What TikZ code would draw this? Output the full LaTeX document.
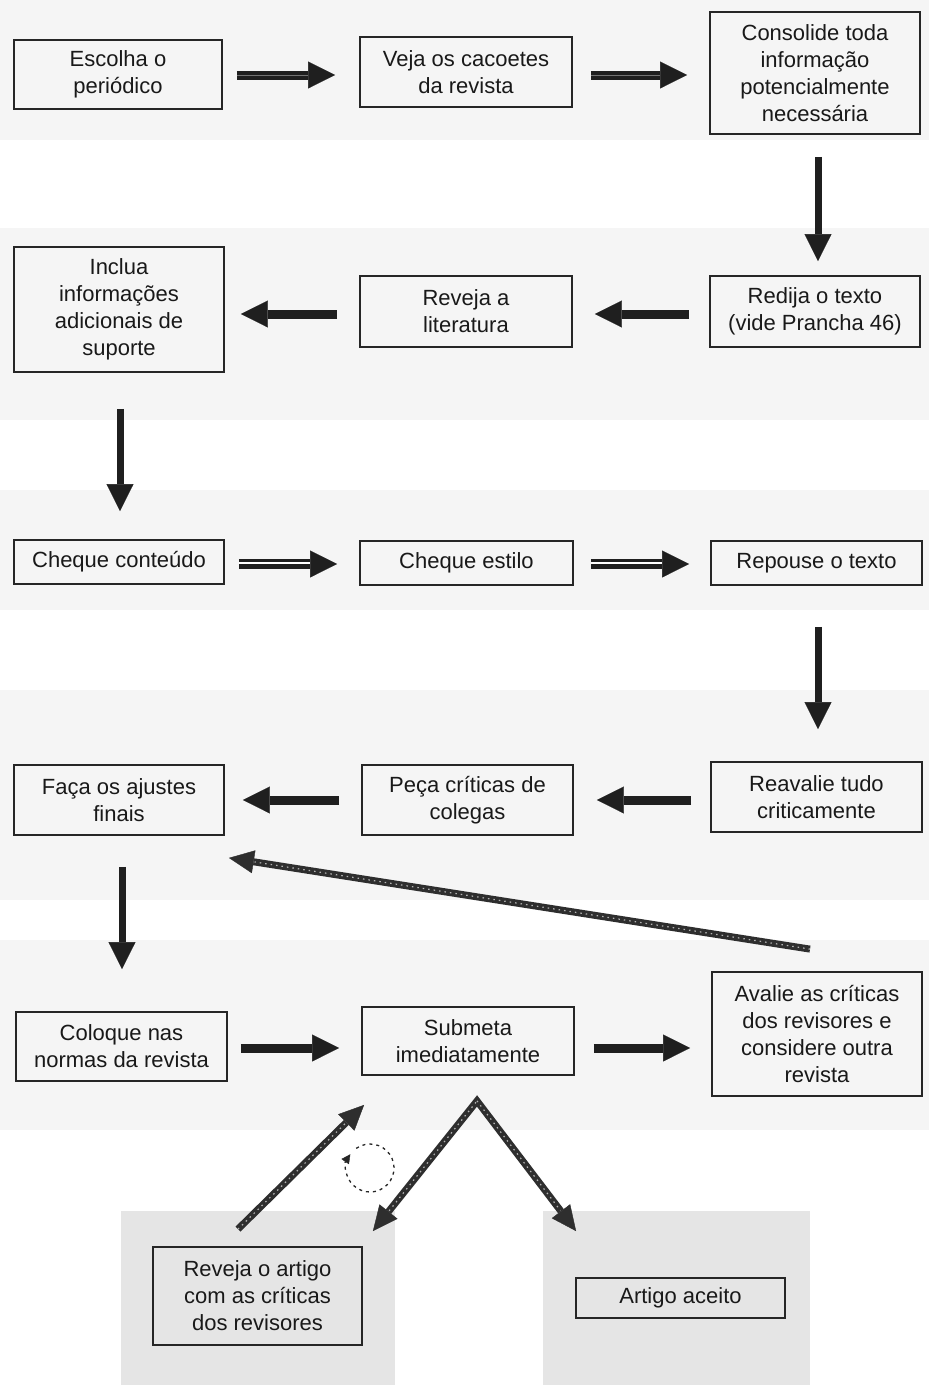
\documentclass[tikz,border=0pt]{standalone}
\usepackage{fontspec}
\setmainfont{Liberation Sans}
\usetikzlibrary{arrows.meta,calc}
\begin{document}
\begin{tikzpicture}[x=1pt,y=-1pt,
  box/.style={draw=black!85, line width=1.8pt, align=center, inner sep=0pt,
    font=\fontsize{22}{27}\selectfont, text=black!90},
  tipbig/.tip={Triangle[length=27pt,width=27pt,line width=0.4pt]},
  tipmid/.tip={Triangle[length=25pt,width=23pt,line width=0.4pt]},
  harr/.style={line width=9pt, draw=black!88, -tipbig},
  varr/.style={line width=7pt, draw=black!88, -tipbig},
  darr/.style={line width=7pt, draw=black!82, -tipmid},
  stripe/.style={draw=black!55, line width=1pt},
  dstripe/.style={draw=gray!60, line width=1.2pt, dash pattern=on 1.5pt off 4pt},
  band/.style={fill=gray!8, draw=none},
  panel/.style={fill=gray!20, draw=none}
]
\fill[white] (0,0) rectangle (929,1385);
\useasboundingbox (0,0) rectangle (929,1385);
% background bands
\path[band] (0,0) rectangle (929,140);
\path[band] (0,228) rectangle (929,420);
\path[band] (0,490) rectangle (929,610);
\path[band] (0,690) rectangle (929,900);
\path[band] (0,940) rectangle (929,1130);
\path[panel] (121,1211) rectangle (395,1385);
\path[panel] (543,1211) rectangle (810,1385);

% nodes
\node[box, minimum width=208pt, minimum height=69pt] (n1) at (118,74.5) {Escolha o\\periódico};
\node[box, minimum width=212pt, minimum height=70pt] (n2) at (466,72) {Veja os cacoetes\\da revista};
\node[box, minimum width=210pt, minimum height=122pt] (n3) at (815,73) {Consolide toda\\informação\\potencialmente\\necessária};
\node[box, minimum width=210pt, minimum height=71pt] (n4) at (815,311.5) {Redija o texto\\(vide Prancha 46)};
\node[box, minimum width=212pt, minimum height=71pt] (n5) at (466,311.5) {Reveja a\\literatura};
\node[box, minimum width=210pt, minimum height=125pt] (n6) at (119,309.5) {Inclua\\informações\\adicionais de\\suporte};
\node[box, minimum width=210pt, minimum height=44pt] (n7) at (119,562) {Cheque conteúdo};
\node[box, minimum width=213pt, minimum height=44pt] (n8) at (466.5,563) {Cheque estilo};
\node[box, minimum width=211pt, minimum height=44pt] (n9) at (816.5,563) {Repouse o texto};
\node[box, minimum width=211pt, minimum height=70pt] (n10) at (816.5,797) {Reavalie tudo\\criticamente};
\node[box, minimum width=211pt, minimum height=70pt] (n11) at (467.5,800) {Peça críticas de\\colegas};
\node[box, minimum width=210pt, minimum height=70pt] (n12) at (119,800) {Faça os ajustes\\finais};
\node[box, minimum width=211pt, minimum height=69pt] (n13) at (121.5,1046.5) {Coloque nas\\normas da revista};
\node[box, minimum width=212pt, minimum height=68pt] (n14) at (468,1041) {Submeta\\imediatamente};
\node[box, minimum width=210pt, minimum height=124pt] (n15) at (817,1034) {Avalie as críticas\\dos revisores e\\considere outra\\revista};
\node[box, minimum width=209pt, minimum height=98pt] (n16) at (257.5,1296) {Reveja o artigo\\com as críticas\\dos revisores};
\node[box, minimum width=209pt, minimum height=40pt] (n17) at (680.5,1298) {Artigo aceito};

% row 1
\draw[harr] ($(n1.east)+(14,0.5)$) -- ($(n2.west)+(-24,3)$);
\draw[stripe] ($(n1.east)+(14,0.5)$) -- ($(n2.west)+(-51,3)$);
\draw[harr] ($(n2.east)+(18,3)$) -- ($(n3.west)+(-22,2)$);
\draw[stripe] ($(n2.east)+(18,3)$) -- ($(n3.west)+(-49,2)$);
% down
\draw[varr] ($(n3.south)+(3,22)$) -- ($(n4.north)+(3,-14)$);
% row 2
\draw[harr] ($(n4.west)+(-20,2.5)$) -- ($(n5.east)+(22,2.5)$);
\draw[harr] ($(n5.west)+(-22,2.5)$) -- ($(n6.east)+(16,4.5)$);
% down
\draw[varr] ($(n6.south)+(1,36)$) -- ($(n7.north)+(1,-28)$);
% row 3 (double shafts)
\draw[harr, line width=10pt] ($(n7.east)+(14,2)$) -- ($(n8.west)+(-22,1)$);
\draw[draw=white, line width=2pt] ($(n7.east)+(14,0.5)$) -- ($(n8.west)+(-49,-0.5)$);
\draw[harr, line width=10pt] ($(n8.east)+(17,1)$) -- ($(n9.west)+(-21,1)$);
\draw[draw=white, line width=2pt] ($(n8.east)+(17,-0.5)$) -- ($(n9.west)+(-48,-0.5)$);
% down
\draw[varr] ($(n9.south)+(1.5,41)$) -- ($(n10.north)+(1.5,-32)$);
% row 4
\draw[harr] ($(n10.west)+(-19,3)$) -- ($(n11.east)+(23,0)$);
\draw[harr] ($(n11.west)+(-22,0)$) -- ($(n12.east)+(18,0)$);
% long diagonal back
\draw[darr] ($(n15.north)+(-7,-22)$) -- ($(n12.south east)+(4,22)$);
\draw[dstripe, shorten >=26pt] ($(n15.north)+(-7,-22)$) -- ($(n12.south east)+(4,22)$);
% down
\draw[varr] ($(n12.south)+(3,31)$) -- ($(n13.north)+(0.5,-42)$);
% row 5
\draw[harr] ($(n13.east)+(13,1.5)$) -- ($(n14.west)+(-22,7)$);
\draw[harr] ($(n14.east)+(19,7)$) -- ($(n15.west)+(-21,14)$);
% bottom
\coordinate (apex) at ($(n14.south)+(9,25)$);
\coordinate (tl) at ($(n16.north east)+(10,-15)$);
\coordinate (tr) at ($(n17.north west)+(1,-46)$);
\draw[darr, tipmid-tipmid, line join=miter] (tl) -- (apex) -- (tr);
\draw[dstripe, shorten <=26pt] (tl) -- (apex);
\draw[dstripe, shorten >=26pt] (apex) -- (tr);
\coordinate (ub) at ($(n16.north)+(-19.5,-17)$);
\coordinate (ut) at ($(n14.south west)+(3,29)$);
\draw[darr] (ub) -- (ut);
\draw[dstripe, shorten >=26pt] (ub) -- (ut);
% dashed circle
\coordinate (cc) at (370,1168);
\draw[black!85, line width=1.3pt, dash pattern=on 3pt off 4pt,
  -{Triangle[length=9pt,width=9pt,line width=0.4pt]}]
  ($(cc)+(-125:24)$) arc[start angle=-125, end angle=215, radius=24];
\end{tikzpicture}
\end{document}
